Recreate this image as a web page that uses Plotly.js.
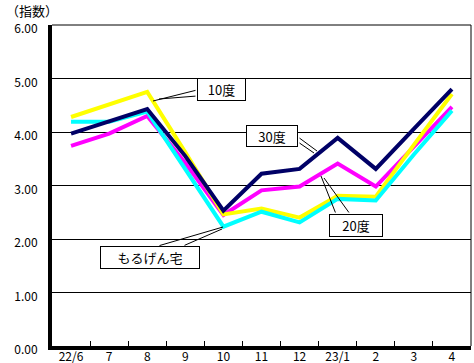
<!DOCTYPE html>
<html><head><meta charset="utf-8">
<script src="https://cdn.plot.ly/plotly-3.0.1.min.js"></script>
<style>html,body{margin:0;padding:0;background:#fff}</style>
</head><body>
<div id="chart" style="width:474px;height:363px"></div>
<script>
const months = ["22/6","7","8","9","10","11","12","23/1","2","3","4"];
const deg10 = [4.28, 4.52, 4.75, 3.62, 2.46, 2.57, 2.40, 2.81, 2.79, 3.76, 4.71];
const deg30 = [3.97, 4.20, 4.43, 3.55, 2.53, 3.22, 3.31, 3.89, 3.31, 4.06, 4.80];
const deg20 = [3.74, 3.97, 4.30, 3.42, 2.45, 2.91, 2.98, 3.41, 2.98, 3.72, 4.47];
const morugen = [4.19, 4.19, 4.38, 3.30, 2.23, 2.51, 2.31, 2.75, 2.72, 3.58, 4.40];
const yTicks = [0,1,2,3,4,5,6];

const font = "'Noto Sans CJK JP', 'DejaVu Sans', sans-serif";
const M = {l:52, r:3, t:25, b:17}, W = 474, H = 363;
const PW = W - M.l - M.r, PH = H - M.t - M.b;
const px = p => (p - M.l) / PW;
const py = p => (H - M.b - p) / PH;

function tr(y, color, name){
  return {type:'scatter', mode:'lines', x:months, y:y, name:name,
          line:{color:color, width:4}, hoverinfo:'skip'};
}
const data = [
  tr(deg20, '#FF00FF', '20度'),
  tr(deg10, '#FFFF00', '10度'),
  tr(morugen, '#00FFFF', 'もるげん宅'),
  tr(deg30, '#000066', '30度')
];
function box(text, cx, cy, w, h){
  return {text:text, xref:'paper', yref:'paper', x:px(cx), y:py(cy),
    xanchor:'center', yanchor:'middle', showarrow:false,
    width:w-4, height:h-4, borderpad:1,
    bordercolor:'#000', borderwidth:1, bgcolor:'#fff',
    font:{family:font, size:13, color:'#000'}};
}
function leader(tx, ty, sx, sy){
  return {text:'', xref:'paper', yref:'paper', x:px(tx), y:py(ty),
    ax:sx - tx, ay:sy - ty, showarrow:true, arrowhead:0, arrowwidth:1,
    arrowcolor:'#000', standoff:0, startstandoff:0};
}
const layout = {
  width:W, height:H,
  margin:M,
  paper_bgcolor:'#fff', plot_bgcolor:'#fff',
  showlegend:false,
  font:{family:font, size:12, color:'#000'},
  xaxis:{type:'category', categoryorder:'array', categoryarray:months, range:[-0.5, 10.5],
    showline:true, linewidth:4, linecolor:'#000', showgrid:false,
    ticks:'inside', tickson:'boundaries', ticklen:5, tickcolor:'#000', tickwidth:1,
    ticklabelstandoff:-3,
    tickfont:{family:font, size:12}, zeroline:false, fixedrange:true},
  yaxis:{range:[0,6], tickvals:yTicks, tickformat:'.2f', showline:true, linewidth:4,
    linecolor:'#000', showgrid:true, gridcolor:'#000', gridwidth:1, ticks:'',
    ticklabelstandoff:8, ticklabelshift:4, zeroline:false,
    tickfont:{family:font, size:12}, fixedrange:true},
  shapes:[
    {type:'line', xref:'paper', yref:'paper', x0:1, x1:1, y0:0, y1:1, line:{color:'#000', width:1}},
    {type:'line', xref:'paper', yref:'paper', x0:0, x1:1, y0:1, y1:1, line:{color:'#000', width:1}}
  ],
  annotations:[
    {text:'（指数）', xref:'paper', yref:'paper', x:px(4), y:py(11), xanchor:'left', yanchor:'middle',
     showarrow:false, font:{family:font, size:13, color:'#000'}},
    leader(153,101,197,90), leader(159,99,197,96),
    leader(317,151,298,137), leader(314,153,298,142),
    leader(321,176,336,214), leader(324,178,350,214),
    leader(223,227,158,246), leader(222,229,183,246),
    box('10度', 221.5, 89.5, 49, 23),
    box('30度', 272, 136, 52, 22),
    box('20度', 356, 225.5, 54, 23),
    box('もるげん宅', 150, 257.5, 100, 23)
  ]
};
Plotly.newPlot('chart', data, layout, {staticPlot:true, displayModeBar:false});
</script>
</body></html>
